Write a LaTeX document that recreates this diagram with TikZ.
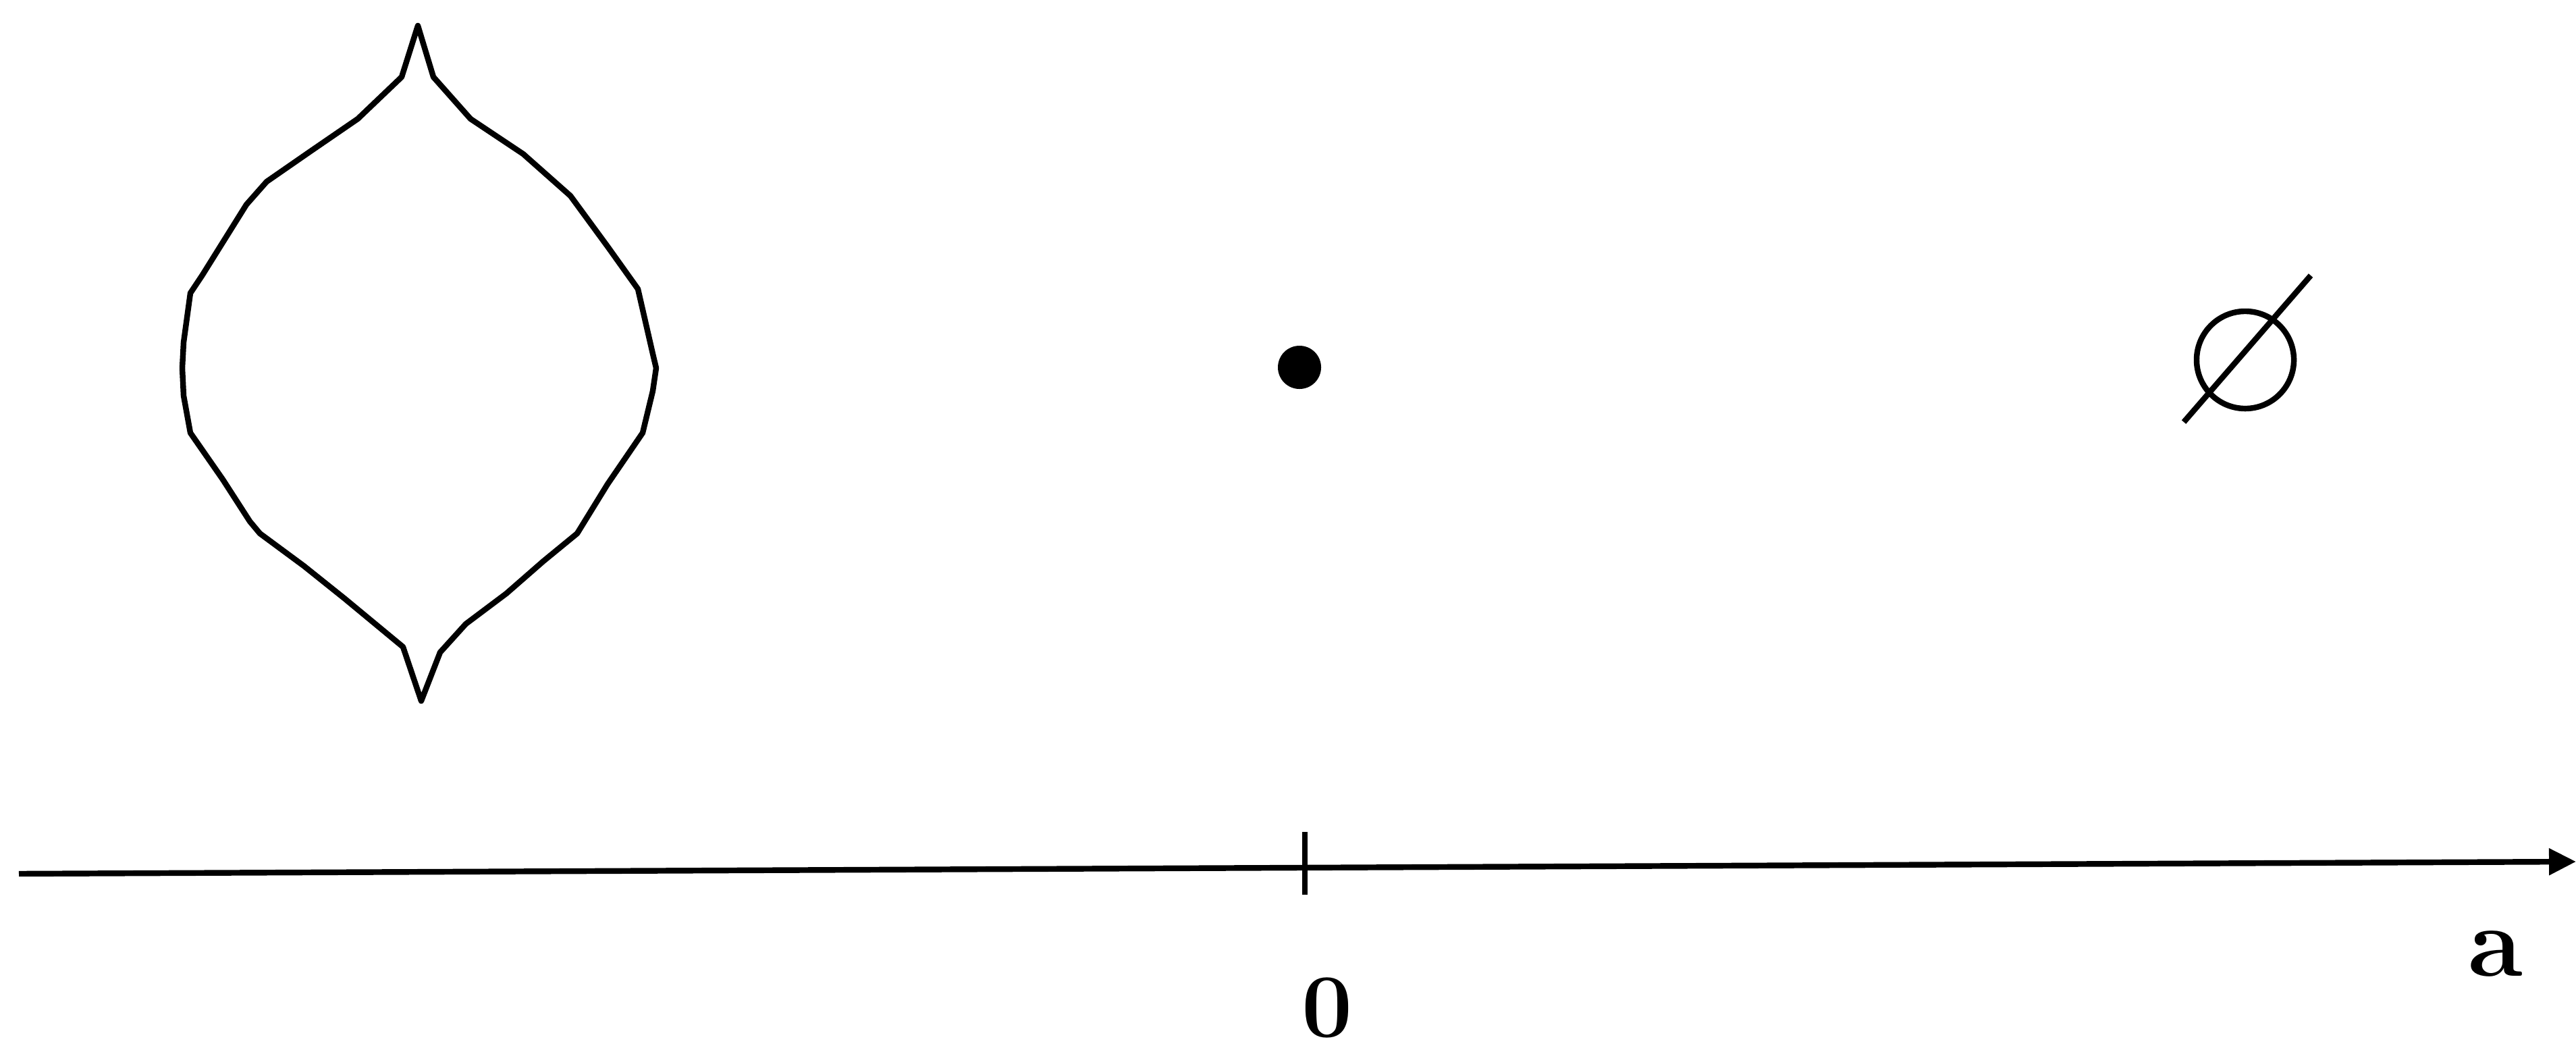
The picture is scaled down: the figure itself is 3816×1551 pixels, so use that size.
\documentclass[tikz,border=0pt]{standalone}
\usetikzlibrary{calc,positioning,arrows.meta}
\begin{document}
\begin{tikzpicture}[x=0.01cm,y=-0.01cm]
        \tikzstyle{trait} = [line width=2.4pt, line join=round]
        \tikzstyle{etiquette} = [font=\fontsize{40}{48}\selectfont\bfseries, inner sep=0pt]
        \useasboundingbox (0,0) rectangle (3816,1551);
        \draw[trait] (619,38) -- (642,114) -- (697,176) -- (775,228) -- (845,290) -- (900,365) -- (945,428) -- (967,524) -- (972,545) -- (967,579) -- (952,641) -- (900,717) -- (855,790) -- (805,831) -- (750,879) -- (690,924) -- (652,966) -- (624,1038) -- (597,958) -- (510,886) -- (450,838) -- (385,790) -- (370,772) -- (330,710) -- (282,641) -- (272,586) -- (270,545) -- (272,507) -- (282,434) -- (300,407) -- (365,303) -- (395,269) -- (460,224) -- (530,176) -- (595,114) -- cycle;
        \node (point) [circle, fill=black, minimum size=0.64cm, inner sep=0pt] at (1925,544) {};
        \node (vide) [circle, draw, trait, minimum size=1.44cm, inner sep=0pt] at (3326,533) {};
        \coordinate (barre_bas) at (3235,625);
        \coordinate (barre_haut) at (3423,408);
        \draw[trait] (barre_bas) -- (barre_haut);
        \coordinate (axe_debut) at (28,1294);
        \coordinate (axe_fin) at (3816,1276);
        \coordinate (zero) at (1933,1292);
        \draw[trait, -{Triangle[length=0.4cm,width=0.38cm]}] (axe_debut) -- (axe_fin);
        \draw[trait] ($(zero)+(0,-60)$) -- ($(zero)+(0,33)$);
        \node (label_zero) [etiquette, font=\fontsize{38}{46}\selectfont\bfseries] at (1966,1492) {0};
        \node (label_a) [etiquette, font=\fontsize{42}{50}\selectfont\bfseries] at (3697,1412) {a};
\end{tikzpicture}
\end{document}
